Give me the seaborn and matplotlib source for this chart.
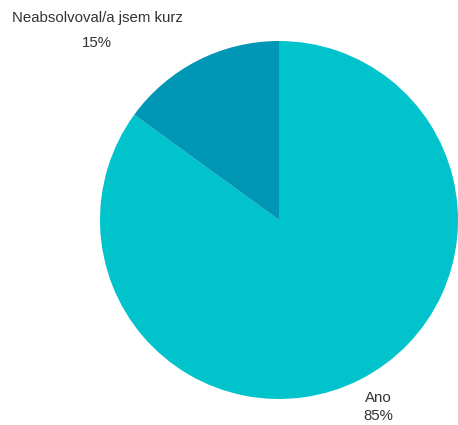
import matplotlib
matplotlib.use("Agg")
import matplotlib.pyplot as plt
import seaborn as sns

categories = ["Ano", "Neabsolvoval/a jsem kurz"]
values = [85, 15]
colors = ["#00C3CB", "#0096B6"]

sns.set_theme(style="white")
plt.rcParams['font.family'] = ['Liberation Sans', 'DejaVu Sans']

W, H = 458, 425
fig = plt.figure(figsize=(W / 100, H / 100), dpi=100)
ax = fig.add_axes([0, 0, 1, 1])

cx, cy, r = 279, H - 220, 179
ax.pie(values, colors=colors, startangle=90, counterclock=False,
       center=(cx, cy), radius=r, frame=True,
       wedgeprops=dict(linewidth=0))
ax.set_xlim(0, W)
ax.set_ylim(0, H)
ax.axis("off")

total = sum(values)
label_pos = {"Neabsolvoval/a jsem kurz": (97, 18, 43), "Ano": (378, 398, 416)}
for cat, v in zip(categories, values):
    x, y1, y2 = label_pos[cat]
    ax.text(x, H - y1, cat, ha="center", va="center", fontsize=10.8, color="#333333")
    ax.text(x, H - y2, f"{round(100 * v / total)}%", ha="center", va="center",
            fontsize=10.8, color="#333333")

fig.savefig("out.png", dpi=100)
